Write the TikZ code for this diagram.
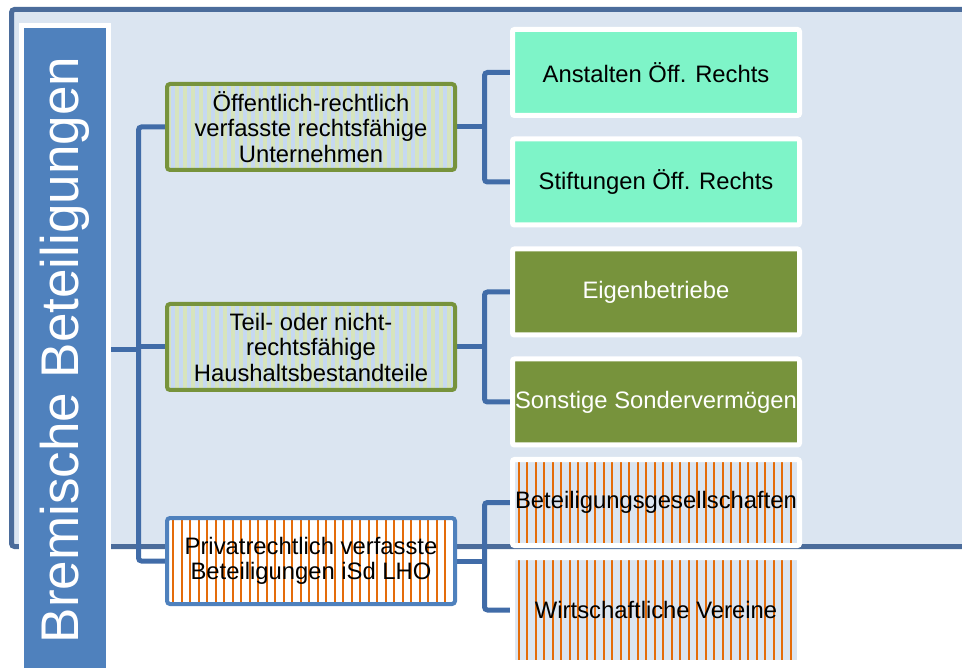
\documentclass[tikz,border=0pt]{standalone}
\usepackage{fontspec}
\setmainfont{Liberation Sans}
\usepackage{tikz}
\usetikzlibrary{positioning,calc,backgrounds}
\definecolor{framebg}{RGB}{219,229,241}
\definecolor{frameline}{RGB}{75,108,155}
\definecolor{titleblue}{RGB}{79,129,189}
\definecolor{connblue}{RGB}{65,108,168}
\definecolor{olivegreen}{RGB}{119,147,60}
\definecolor{stripeblue}{RGB}{198,217,241}
\definecolor{stripegreen}{RGB}{215,228,189}
\definecolor{mintfill}{RGB}{126,244,200}
\definecolor{stripeorange}{RGB}{228,108,10}
\tikzset{
  basebox/.style={rectangle,align=center,inner sep=0pt,font=\fontsize{23.8}{25.5}\selectfont},
  greenstripe/.style={fill=stripeblue,
    path picture={\foreach \s in {2,10,...,298}
      \draw[stripegreen,line width=4pt] ([xshift=\s pt]path picture bounding box.south west) -- ([xshift=\s pt]path picture bounding box.north west);}},
  orangestripe/.style={fill=#1,
    path picture={\foreach \s in {6,14.5,...,300}
      \draw[stripeorange,line width=2pt] ([xshift=\s pt]path picture bounding box.south west) -- ([xshift=\s pt]path picture bounding box.north west);}},
  midbox/.style={basebox,rounded corners=3pt,line width=4pt,minimum width=288pt,minimum height=86pt},
  greenmid/.style={midbox,draw=olivegreen,greenstripe},
  orangemid/.style={midbox,draw=titleblue,orangestripe=white},
  leafbox/.style={basebox,rounded corners=2pt,draw=white,line width=5pt,minimum width=287pt,minimum height=86pt},
  mintleaf/.style={leafbox,fill=mintfill},
  oliveleaf/.style={leafbox,fill=olivegreen,text=white},
  orangeleaf/.style={leafbox,orangestripe=framebg},
  titlebox/.style={rectangle,fill=titleblue,draw=white,line width=5pt,text=white,inner sep=0pt,font=\fontsize{53}{60}\selectfont},
  frame/.style={draw=frameline,fill=framebg,line width=5pt,rounded corners=3pt},
  conn/.style={draw=connblue,line width=5pt,rounded corners=3pt}
}

\begin{document}
\begin{tikzpicture}[x=1pt,y=-1pt]
  \useasboundingbox (0,0) rectangle (962,668);

  \node[titlebox,rotate=90,minimum width=649pt,minimum height=87pt] (title) at (65,350) {Bremische Beteiligungen};

  \node[greenmid] (oeff) at (311,127) {Öffentlich-rechtlich\\verfasste rechtsfähige\\Unternehmen};
  \node[greenmid] (teil) at (311,347) {Teil- oder nicht-\\rechtsfähige\\Haushaltsbestandteile};
  \node[orangemid] (priv) at (311,561) {Privatrechtlich verfasste\\Beteiligungen iSd LHO};

  \node[mintleaf] (anst) at (656,72.5) {Anstalten Öff. Rechts};
  \node[mintleaf] (stift) at (656,182) {Stiftungen Öff. Rechts};
  \node[oliveleaf] (eigen) at (656,292) {Eigenbetriebe};
  \node[oliveleaf] (sonst) at (656,402) {Sonstige Sondervermögen};
  \node[orangeleaf] (betges) at (656,502.5) {Beteiligungsgesellschaften};
  \node[orangeleaf,minimum height=105pt] (verein) at (656,610) {Wirtschaftliche Vereine};

  \coordinate (bus) at (138.5,0);
  \coordinate (fork) at (484.5,0);

  \begin{pgfonlayer}{background}
    \draw[frame] (11.5,9.5) rectangle (990,546.5);
    \draw[conn] (title.south) -- (bus |- title.south);
    \draw[conn] (oeff.west) -| (bus |- priv.west) -- (priv.west);
    \draw[conn] (teil.west) -- (bus |- teil.west);

    \draw[conn] (oeff.east) -- (fork |- oeff.east);
    \draw[conn] (anst.west) -| (fork |- stift.west) -- (stift.west);
    \draw[conn] (teil.east) -- (fork |- teil.east);
    \draw[conn] (eigen.west) -| (fork |- sonst.west) -- (sonst.west);
    \draw[conn] (priv.east) -- (fork |- priv.east);
    \draw[conn] (betges.west) -| (fork |- verein.west) -- (verein.west);
  \end{pgfonlayer}
\end{tikzpicture}
\end{document}
